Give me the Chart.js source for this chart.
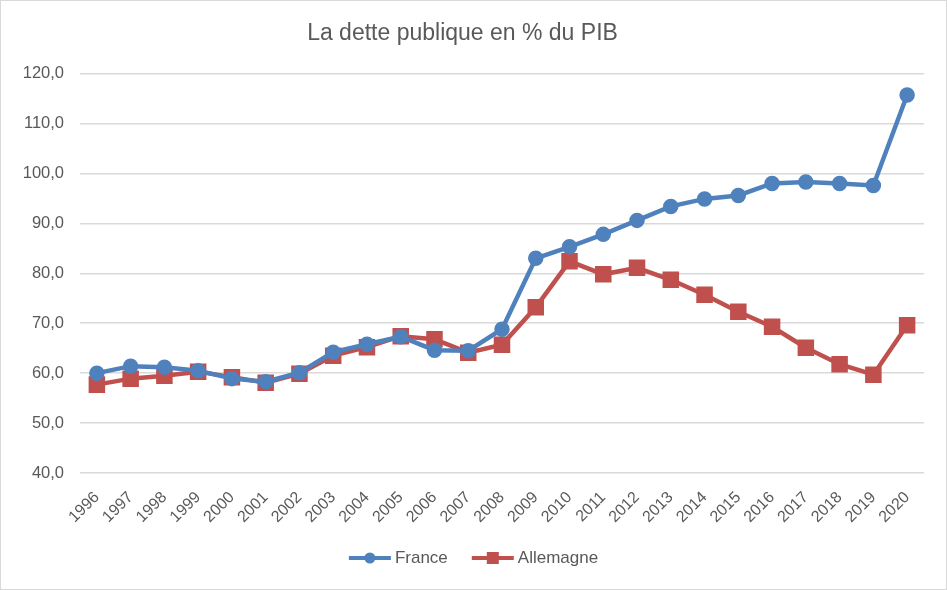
<!DOCTYPE html>
<html>
<head>
<meta charset="utf-8">
<script src="https://cdn.jsdelivr.net/npm/chart.js@4.4.0/dist/chart.umd.min.js"></script>
<style>
  html, body { margin: 0; padding: 0; background: #fff; }
  #wrap { position: relative; width: 947px; height: 590px; box-sizing: border-box; border: 1px solid #d9d9d9; }
  canvas { display: block; }
</style>
</head>
<body>
<div id="wrap"><canvas id="c" width="945" height="588"></canvas></div>
<script>
const years = ["1996","1997","1998","1999","2000","2001","2002","2003","2004","2005","2006","2007","2008","2009","2010","2011","2012","2013","2014","2015","2016","2017","2018","2019","2020"];
const france = [60.0,61.4,61.2,60.5,58.9,58.3,60.1,64.2,65.8,67.3,64.6,64.5,68.8,83.0,85.3,87.8,90.6,93.4,94.9,95.6,98.0,98.3,98.0,97.6,115.7];
const allemagne = [57.7,58.9,59.5,60.3,59.2,58.1,59.9,63.5,65.2,67.4,66.8,64.1,65.7,73.2,82.4,79.8,81.1,78.7,75.7,72.3,69.3,65.1,61.8,59.7,69.6];
const yTicks = { min: 40, max: 120, step: 10 };

const FONT = "'Liberation Sans', 'DejaVu Sans', sans-serif";
const TXT = '#595959';

const legendPlugin = {
  id: 'bottomLegend',
  afterDraw(chart) {
    const ctx = chart.ctx;
    const items = chart.data.datasets;
    ctx.save();
    ctx.font = '17px ' + FONT;
    ctx.textBaseline = 'middle';
    const y = 557;
    const lineW = 42, gap = 4, spacing = 24;
    const widths = items.map(d => lineW + gap + ctx.measureText(d.label).width);
    const total = widths.reduce((a, b) => a + b, 0) + spacing * (items.length - 1);
    let x = (chart.width - total) / 2;
    items.forEach((d, i) => {
      ctx.strokeStyle = d.borderColor;
      ctx.lineWidth = 4;
      ctx.beginPath(); ctx.moveTo(x, y); ctx.lineTo(x + lineW, y); ctx.stroke();
      ctx.fillStyle = d.borderColor;
      if (d.pointStyle === 'rect') {
        ctx.fillRect(x + lineW / 2 - 6, y - 6, 12, 12);
      } else {
        ctx.beginPath(); ctx.arc(x + lineW / 2, y, 5.5, 0, Math.PI * 2); ctx.fill();
      }
      ctx.fillStyle = TXT;
      ctx.textAlign = 'left';
      ctx.fillText(d.label, x + lineW + gap, y);
      x += widths[i] + spacing;
    });
    ctx.restore();
  }
};

new Chart(document.getElementById('c'), {
  type: 'line',
  data: {
    labels: years,
    datasets: [
      { label: 'France', data: france, borderColor: '#4f81bd', backgroundColor: '#4f81bd', borderWidth: 4.5, pointStyle: 'circle', pointRadius: 5.5, pointHoverRadius: 5.5, tension: 0 },
      { label: 'Allemagne', data: allemagne, borderColor: '#c0504d', backgroundColor: '#c0504d', borderWidth: 4.5, pointStyle: 'rect', pointRadius: 8.5, pointHoverRadius: 8.5, tension: 0 }
    ]
  },
  options: {
    responsive: false,
    animation: false,
    layout: { padding: { left: 0, right: 22, top: 0, bottom: 58 } },
    plugins: {
      legend: { display: false },
      tooltip: { enabled: false },
      title: { display: true, text: 'La dette publique en % du PIB', color: TXT, font: { family: FONT, size: 23, weight: 'normal' }, padding: { top: 19, bottom: 26 } }
    },
    scales: {
      x: {
        offset: true,
        grid: { display: false },
        border: { display: false },
        ticks: { color: TXT, font: { family: FONT, size: 16 }, maxRotation: 45, minRotation: 45, autoSkip: false, padding: 7 },
        afterFit(s) { s.height = 58; }
      },
      y: {
        min: yTicks.min, max: yTicks.max,
        grid: { color: '#d9d9d9', lineWidth: 1.5, drawTicks: false },
        border: { display: false },
        ticks: { stepSize: yTicks.step, color: TXT, font: { family: FONT, size: 16.5 }, padding: 16,
          callback: v => v.toFixed(1).replace('.', ',') },
        afterFit(s) { s.width = 79; }
      }
    }
  },
  plugins: [legendPlugin]
});
</script>
</body>
</html>
